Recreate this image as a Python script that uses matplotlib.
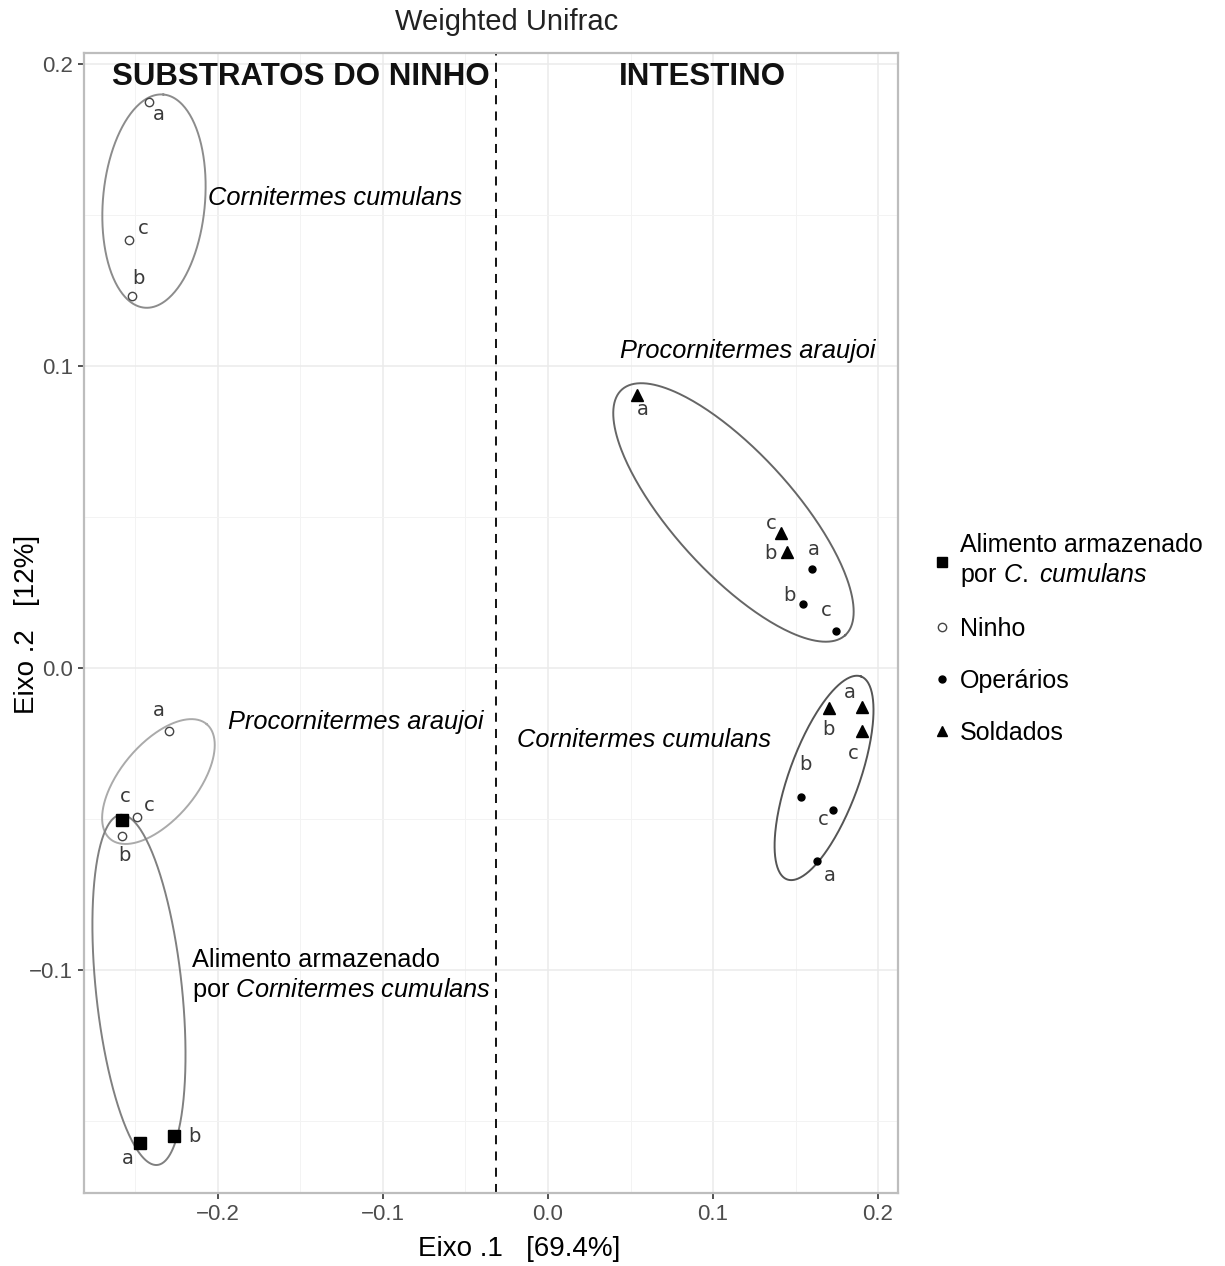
import numpy as np
import matplotlib
matplotlib.use("Agg")
import matplotlib.pyplot as plt
from matplotlib.lines import Line2D

plt.rcParams['font.family'] = ['Liberation Sans', 'DejaVu Sans']
plt.rcParams['mathtext.fontset'] = 'custom'
plt.rcParams['mathtext.rm'] = 'Liberation Sans'
plt.rcParams['mathtext.it'] = 'Liberation Sans:italic'

# ---------------- data ----------------
ninho_x = [-0.2418, -0.2539, -0.2521, -0.2297, -0.2491, -0.2582]
ninho_y = [0.1874, 0.1417, 0.1232, -0.0209, -0.0493, -0.0556]
ninho_lab = ['a', 'c', 'b', 'a', 'c', 'b']

alim_x = [-0.2582, -0.2473, -0.2267]
alim_y = [-0.0503, -0.1573, -0.1550]
alim_lab = ['c', 'a', 'b']

sold_x = [0.0539, 0.1412, 0.1448, 0.1903, 0.1703, 0.1903]
sold_y = [0.0904, 0.0447, 0.0384, -0.0129, -0.0132, -0.0209]
sold_lab = ['a', 'c', 'b', 'a', 'b', 'c']

oper_x = [0.1600, 0.1545, 0.1745, 0.1533, 0.1727, 0.1630]
oper_y = [0.0328, 0.0212, 0.0123, -0.0427, -0.0470, -0.0639]
oper_lab = ['a', 'b', 'c', 'b', 'c', 'a']

x_ticks = [-0.2, -0.1, 0.0, 0.1, 0.2]
y_ticks = [-0.1, 0.0, 0.1, 0.2]
divider_x = -0.0317

# ---------------- layout / style ----------------
label_off = {
    'ninho': [(10, 12), (14, -12), (6, -17), (-10, -21), (12, -11), (2, 20)],
    'alim': [(3, -23), (-12, 15), (20, 0)],
    'sold': [(6, 15), (-10, -10), (-16, 1), (-12, -14), (-1, 22), (-9, 22)],
    'oper': [(2, -19), (-13, -8), (-10, -20), (4, -32), (-10, 10), (13, 15)],
}
# ellipses: centre (data), semi-axes (px), angle (deg, on screen), colour
ellipses = [
    (-0.2388, 0.1546, 107, 51, 85, '#8c8c8c'),
    (-0.2361, -0.0376, 75, 38, 50, '#aaaaaa'),
    (-0.2479, -0.1066, 176, 43, 96, '#808080'),
    (0.1124, 0.0515, 166, 60, -47.7, '#666666'),
    (0.1673, -0.0364, 108, 35, 70, '#555555'),
]

W, H = 1225, 1266
fig = plt.figure(figsize=(W / 100, H / 100), dpi=100)
ax = fig.add_axes([84 / W, 1 - 1193 / H, (898 - 84) / W, (1193 - 53) / H])
ax.set_xlim(-0.28121, 0.21212)
ax.set_ylim(-0.17384, 0.20364)

ax.set_xticks(x_ticks)
ax.set_xticklabels(['\u22120.2', '\u22120.1', '0.0', '0.1', '0.2'])
ax.set_yticks(y_ticks)
ax.set_yticklabels(['\u22120.1', '0.0', '0.1', '0.2'])
ax.set_xticks([-0.25, -0.15, -0.05, 0.05, 0.15], minor=True)
ax.set_yticks([-0.15, -0.05, 0.05, 0.15], minor=True)
ax.grid(which='major', color='#ebebeb', lw=1.1, zorder=0)
ax.grid(which='minor', color='#f3f3f3', lw=0.7, zorder=0)
ax.set_axisbelow(True)
ax.tick_params(which='major', length=4, width=1.2, color='#333333',
               labelsize=16, labelcolor='#4d4d4d', pad=4)
ax.tick_params(which='minor', length=0)
for s in ax.spines.values():
    s.set_color('#bdbdbd')
    s.set_linewidth(1.6)

ax.axvline(divider_x, color='black', lw=1.3, dashes=(5, 4), zorder=2)

# ellipses
fig.canvas.draw()
t = np.linspace(0, 2 * np.pi, 300)
for cx, cy, a, b, ang, col in ellipses:
    c = ax.transData.transform((cx, cy))
    th = np.deg2rad(ang)
    px = c[0] + a * np.cos(t) * np.cos(th) - b * np.sin(t) * np.sin(th)
    py = c[1] + a * np.cos(t) * np.sin(th) + b * np.sin(t) * np.cos(th)
    d = ax.transData.inverted().transform(np.column_stack([px, py]))
    ax.plot(d[:, 0], d[:, 1], color=col, lw=1.4, zorder=3)

# points
ax.plot(ninho_x, ninho_y, 'o', ms=6, mfc='white', mec='#444444', mew=1.0, ls='none', zorder=4)
ax.plot(alim_x, alim_y, 's', ms=9, color='black', ls='none', zorder=4)
ax.plot(sold_x, sold_y, '^', ms=8.5, color='black', ls='none', zorder=4)
ax.plot(oper_x, oper_y, 'o', ms=5, color='black', ls='none', zorder=4)

def put_labels(xs, ys, labs, offs):
    for x, y, l, (dx, dy) in zip(xs, ys, labs, offs):
        ax.annotate(l, (x, y), xytext=(dx * 0.72, -dy * 0.72), textcoords='offset points',
                    ha='center', va='center', fontsize=14, color='#3a3a3a',
                    family='DejaVu Sans', zorder=5)

put_labels(ninho_x, ninho_y, ninho_lab, label_off['ninho'])
put_labels(alim_x, alim_y, alim_lab, label_off['alim'])
put_labels(sold_x, sold_y, sold_lab, label_off['sold'])
put_labels(oper_x, oper_y, oper_lab, label_off['oper'])

# annotations
ax.text(-0.1497, 0.1957, 'SUBSTRATOS DO NINHO', ha='center', va='center',
        fontsize=22.5, fontweight='bold', color='#111111')
ax.text(0.0933, 0.1957, 'INTESTINO', ha='center', va='center',
        fontsize=22.5, fontweight='bold', color='#111111')
ax.text(-0.2061, 0.1556, 'Cornitermes cumulans', style='italic', fontsize=18.3, va='center')
ax.text(0.0436, 0.1050, 'Procornitermes araujoi', style='italic', fontsize=18.3, va='center')
ax.text(-0.1939, -0.0179, 'Procornitermes araujoi', style='italic', fontsize=18.3, va='center')
ax.text(-0.0188, -0.0238, 'Cornitermes cumulans', style='italic', fontsize=18.3, va='center')
ax.text(-0.2158, -0.0967, 'Alimento armazenado', fontsize=18.3, va='center')
ax.text(-0.2158, -0.1066, r'por $\mathit{Cornitermes\ cumulans}$', fontsize=18.3, va='center')

# titles
fig.text(507 / W, 1 - 22 / H, 'Weighted Unifrac', ha='center', va='center', fontsize=21, color='#222222')
fig.text(519 / W, 1 - 1249 / H, 'Eixo .1   [69.4%]', ha='center', va='center', fontsize=20)
fig.text(27 / W, 1 - 624 / H, 'Eixo .2   [12%]', ha='center', va='center', fontsize=20, rotation=90)

# legend
handles = [
    Line2D([], [], marker='s', ms=7.5, color='black', ls='none'),
    Line2D([], [], marker='o', ms=6, mfc='white', mec='#444444', mew=1.0, ls='none'),
    Line2D([], [], marker='o', ms=5, color='black', ls='none'),
    Line2D([], [], marker='^', ms=7.5, color='black', ls='none'),
]
labels = ['Alimento armazenado\npor $\\mathit{C.\\ cumulans}$', 'Ninho', 'Oper\u00e1rios', 'Soldados']
fig.legend(handles, labels, loc='upper left', bbox_to_anchor=(934 / W, 1 - 533 / H),
           frameon=False, fontsize=18, handlelength=0.6, handletextpad=0.45,
           labelspacing=1.12, borderaxespad=0, borderpad=0)

fig.savefig('out.png', dpi=100)
